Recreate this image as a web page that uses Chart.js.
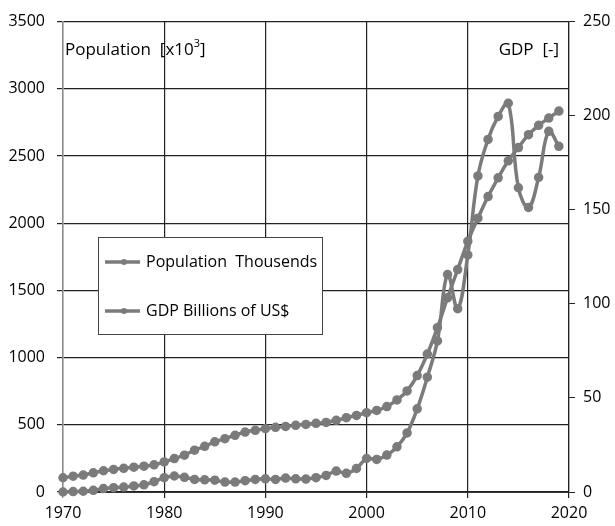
<!DOCTYPE html>
<html>
<head>
<meta charset="utf-8">
<script src="https://cdn.jsdelivr.net/npm/chart.js@4"></script>
<style>
  html, body { margin: 0; padding: 0; background: #fff; }
  #wrap { width: 615px; height: 526px; }
</style>
</head>
<body>
<div id="wrap"><canvas id="myChart"></canvas></div>
<script>
const years = [];
for (let y = 1970; y <= 2019; y++) years.push(y);

const population = [106, 118, 126, 143, 158, 168, 176, 185, 192, 202,
    224, 249, 274, 311, 340, 373, 397, 422, 446, 459,
    471, 481, 488, 496, 503, 511, 518, 533, 553, 570,
    590, 607, 636, 685, 752, 866, 1026, 1223, 1445, 1655,
    1865, 2037, 2198, 2338, 2464, 2563, 2659, 2728, 2782, 2834];

const gdp = [0, 0.2, 0.4, 0.9, 1.8, 2.3, 2.6, 3.2, 3.8, 5.5,
    7.6, 8.5, 7.8, 6.7, 6.5, 6.3, 5.3, 5.3, 6.0, 6.7,
    7.0, 6.7, 7.4, 7.0, 6.9, 7.6, 8.8, 11.1, 9.9, 12.5,
    17.8, 17.3, 19.6, 24, 31.4, 44.2, 61, 80.3, 115.6, 97.4,
    126, 168, 187.4, 199.6, 206.6, 161.7, 151.2, 167.2, 191.7, 183.7];

const leftTicks = [0, 500, 1000, 1500, 2000, 2500, 3000, 3500];
const rightTicks = [0, 50, 100, 150, 200, 250];
const xTicks = [1970, 1980, 1990, 2000, 2010, 2020];

const lineColor = '#7b7b7b';
const fontName = '"Open Sans", sans-serif';

// legend box + axis captions drawn on top
const extras = {
    id: 'extras',
    afterDraw(chart) {
        const c = chart.ctx;
        const a = chart.chartArea;
        c.save();
        c.fillStyle = '#000';
        c.font = '17px ' + fontName;
        c.textBaseline = 'middle';
        c.textAlign = 'left';
        const px = a.left + 2;
        c.fillText('Population  [x10', px, 50);
        let w = c.measureText('Population  [x10').width;
        c.font = '11px ' + fontName;
        c.fillText('3', px + w, 44);
        let w2 = c.measureText('3').width;
        c.font = '17px ' + fontName;
        c.fillText(']', px + w + w2, 50);
        c.textAlign = 'right';
        c.fillText('GDP  [-]', a.right - 10, 50);

        // legend
        const bx = 98.5, by = 237.5, bw = 224, bh = 97;
        c.fillStyle = '#fff';
        c.fillRect(bx, by, bw, bh);
        c.strokeStyle = '#444';
        c.lineWidth = 1;
        c.strokeRect(bx, by, bw, bh);
        const rows = [262, 311];
        chart.data.datasets.forEach((ds, i) => {
            const ly = rows[i];
            c.strokeStyle = ds.borderColor;
            c.lineWidth = 3.5;
            c.beginPath();
            c.moveTo(105, ly);
            c.lineTo(140, ly);
            c.stroke();
            c.fillStyle = ds.borderColor;
            c.beginPath();
            c.arc(124, ly, 3, 0, Math.PI * 2);
            c.fill();
            c.fillStyle = '#000';
            c.font = '16px ' + fontName;
            c.textAlign = 'left';
            c.fillText(ds.label, 146, ly);
        });
        c.restore();
    }
};

new Chart(document.getElementById('myChart'), {
    type: 'line',
    data: {
        datasets: [{
            label: 'Population  Thousends',
            data: years.map((y, i) => ({ x: y, y: population[i] })),
            yAxisID: 'y',
            borderColor: lineColor,
            backgroundColor: lineColor,
            borderWidth: 3.5,
            pointRadius: 3,
            tension: 0.4,
            clip: false
        }, {
            label: 'GDP Billions of US$',
            data: years.map((y, i) => ({ x: y, y: gdp[i] })),
            yAxisID: 'y1',
            borderColor: lineColor,
            backgroundColor: lineColor,
            borderWidth: 3.5,
            pointRadius: 3,
            tension: 0.4,
            clip: false
        }]
    },
    plugins: [extras],
    options: {
        responsive: true,
        maintainAspectRatio: false,
        animation: false,
        layout: { padding: { top: 19, left: 0, right: 0, bottom: 0 } },
        plugins: {
            legend: { display: false },
            tooltip: { enabled: false }
        },
        scales: {
            x: {
                type: 'linear',
                min: 1970,
                max: 2020,
                afterBuildTicks: s => { s.ticks = xTicks.map(v => ({ value: v })); },
                afterFit: s => { s.height = 34; },
                ticks: {
                    color: '#000',
                    font: { family: fontName, size: 16 },
                    padding: 6,
                    maxRotation: 0,
                    callback: v => String(v)
                },
                grid: {
                    color: ctx => (ctx.tick && ctx.tick.value === 1970) ? '#8a8a8a' : '#222',
                    lineWidth: 1.2,
                    tickLength: 6
                },
                border: { color: '#333' }
            },
            y: {
                position: 'left',
                min: 0,
                max: 3500,
                afterBuildTicks: s => { s.ticks = leftTicks.map(v => ({ value: v })); },
                afterFit: s => { s.width = 63; },
                ticks: {
                    color: '#000',
                    font: { family: fontName, size: 16 },
                    padding: 12,
                    callback: v => String(v)
                },
                grid: { color: '#222', lineWidth: 1.2, tickLength: 6 },
                border: { color: '#8a8a8a', width: 1.5 }
            },
            y1: {
                position: 'right',
                min: 0,
                max: 250,
                afterBuildTicks: s => { s.ticks = rightTicks.map(v => ({ value: v })); },
                afterFit: s => { s.width = 46; },
                ticks: {
                    color: '#000',
                    font: { family: fontName, size: 16 },
                    padding: 8,
                    callback: v => String(v)
                },
                grid: { drawOnChartArea: false, color: '#222', tickLength: 6 },
                border: { color: '#222', width: 1.2 }
            }
        }
    }
});
</script>
</body>
</html>
